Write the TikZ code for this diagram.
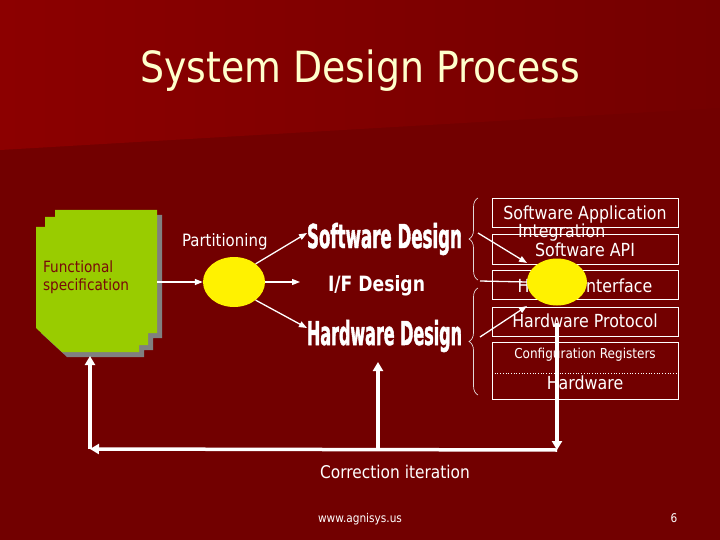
\documentclass[tikz,border=0pt]{standalone}
\usepackage{fontspec}
\setmainfont{DejaVu Sans}[FakeStretch=0.88]
\newfontfamily\impactfont{DejaVu Sans}[FakeStretch=0.62,FakeBold=1.5]
\newfontfamily\wideboldfont{DejaVu Sans}
\usetikzlibrary{arrows.meta,shapes.geometric,decorations.pathreplacing}
\definecolor{bgdark}{RGB}{114,0,0}
\definecolor{bgtopL}{RGB}{140,0,0}
\definecolor{bgtopR}{RGB}{116,0,0}
\definecolor{titlecol}{RGB}{255,255,204}
\definecolor{specgreen}{RGB}{153,204,0}
\definecolor{specshadow}{RGB}{128,128,128}
\definecolor{specred}{RGB}{120,10,10}
\definecolor{bracecol}{RGB}{225,215,215}
\tikzset{
  txt/.style={inner sep=0pt, outer sep=0pt, text=white},
  thinarrow/.style={draw=white, line width=1.3pt, -{Triangle[length=8pt,width=6pt]}},
  thinline/.style={draw=white, line width=1.3pt},
  loopline/.style={draw=white, line width=3.5pt, -{Triangle[length=9pt,width=10pt]}},
  layerbox/.style={draw=white, line width=0.8pt, minimum width=186pt, inner sep=0pt},
  layertext/.style={txt, anchor=base, font=\fontsize{18}{18}\selectfont},
  bracestyle/.style={draw=bracecol, line width=0.7pt, decorate, decoration={brace, amplitude=9pt}},
  blob/.style={ellipse, fill=yellow, draw=none, inner sep=0pt}
}
\begin{document}
\begin{tikzpicture}[x=1pt,y=-1pt]
\useasboundingbox (0,0) rectangle (720,540);
% background
\fill[bgdark] (0,0) rectangle (720,540);
\shade[left color=bgtopL, right color=bgtopR] (0,0) -- (720,0) -- (720,108) -- (0,150) -- cycle;
% title
\node[txt, text=titlecol, anchor=base, font=\fontsize{43}{43}\selectfont] (title) at (360,83) {System Design Process};
% functional specification stack
\fill[specshadow] (60,215) -- ++(102,0) -- ++(0,123) -- ++(-9,0) -- ++(0,12) -- ++(-9,0) -- ++(0,7) -- ++(-77,0) -- ++(-26,-24) -- ++(0,-101) -- ++(9,0) -- ++(0,-10) -- ++(10,0) -- cycle;
\fill[specgreen] (55,210) -- (157,210) -- (157,333) -- (148,333) -- (148,345) -- (139,345) -- (139,352) -- (62,352) -- (36,328) -- (36,227) -- (45,227) -- (45,217) -- (55,217) -- cycle;
\node[txt, text=specred, anchor=base west, font=\fontsize{15.5}{15.5}\selectfont] (spec1) at (43,272) {Functional};
\node[txt, text=specred, anchor=base west, font=\fontsize{15.5}{15.5}\selectfont] (spec2) at (43,290) {specification};
\coordinate (specR) at (157,282);
\coordinate (specB) at (90,356);
% partitioning
\node[blob, minimum width=62pt, minimum height=50pt] (e1) at (234,282) {};
\node[txt, anchor=base west, font=\fontsize{17}{17}\selectfont] (part) at (182,246) {Partitioning};
\draw[thinarrow] (specR) -- (e1.west);
\coordinate (swIn) at (307,233);
\coordinate (ifIn) at (300,282);
\coordinate (hwIn) at (307,328);
\draw[thinarrow] (e1.40) -- (swIn);
\draw[thinarrow] (e1.east) -- (ifIn);
\draw[thinarrow] (e1.-40) -- (hwIn);
% design labels
\node[txt, anchor=base west] (swd) at (307,248) {\resizebox{155pt}{25pt}{\impactfont\bfseries Software Design}};
\node[txt, anchor=base west] (ifd) at (328,291) {\resizebox{97pt}{16pt}{\wideboldfont\bfseries I/F Design}};
\node[txt, anchor=base west] (hwd) at (307,345) {\resizebox{155pt}{25pt}{\impactfont\bfseries Hardware Design}};
% braces
\draw[bracestyle] (478,280) -- (478,198);
\draw[bracestyle] (478,395) -- (478,288);
% layer boxes
\node[layerbox, minimum height=29pt] (bSA) at (585,212.5) {};
\node[layerbox, minimum height=30pt] (bAPI) at (585,249) {};
\node[layerbox, minimum height=29pt] (bHI) at (585,284.5) {};
\node[layerbox, minimum height=29pt] (bHP) at (585,321.5) {};
\node[layerbox, minimum height=57pt] (bCH) at (585,370.5) {};
\draw[white, dotted, line width=0.7pt] (492,373) -- (678,373);
\node[layertext] (tSA) at (585,220) {Software Application};
\node[layertext] (tAPI) at (585,256) {Software API};
\node[layertext] (tHI) at (585,292) {HW/SW Interface};
\node[layertext] (tHP) at (585,327) {Hardware Protocol};
\node[layertext, font=\fontsize{13.7}{13.7}\selectfont] (tCR) at (585,358) {Configuration Registers};
\node[layertext] (tHW) at (585,389) {Hardware};
\node[txt, anchor=base west, font=\fontsize{18}{18}\selectfont] (integ) at (518,237) {Integration};
% integration blob
\node[blob, minimum width=60pt, minimum height=47pt] (e2) at (557,282) {};
\coordinate (b1) at (478,233);
\coordinate (b1e) at (527,263);
\coordinate (bmid) at (480,281);
\coordinate (b2) at (480,337);
\coordinate (b2e) at (527,306);
\draw[thinarrow] (b1) -- (b1e);
\draw[thinline] (bmid) -- (e2.west);
\draw[thinarrow] (b2) -- (b2e);
% correction loop
\coordinate (vt) at (557,323);
\coordinate (br) at (557,450);
\coordinate (bl) at (90,449);
\coordinate (bm) at (378,449);
\coordinate (bmTop) at (378,362);
\draw[loopline] (vt) -- (br);
\draw[loopline] (br) -- (bl);
\draw[loopline] (bl) -- (specB);
\draw[loopline] (bm) -- (bmTop);
\node[txt, anchor=base, font=\fontsize{17.5}{17.5}\selectfont] (corr) at (395,478) {Correction iteration};
% footer
\node[txt, anchor=base, font=\fontsize{12}{12}\selectfont] (url) at (360,522) {www.agnisys.us};
\node[txt, anchor=base, font=\fontsize{12}{12}\selectfont] (pnum) at (674,522) {6};
\end{tikzpicture}
\end{document}
